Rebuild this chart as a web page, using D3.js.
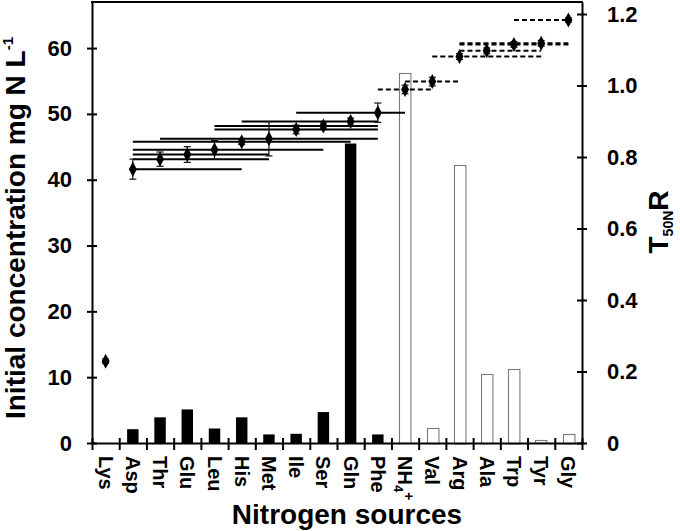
<!DOCTYPE html>
<html>
<head>
<meta charset="utf-8">
<script src="https://cdn.jsdelivr.net/npm/d3@7"></script>
<style>
  html, body { margin: 0; padding: 0; background: #fff; }
  svg { display: block; }
  text { font-family: "Liberation Sans", Arial, sans-serif; font-weight: bold; fill: #000; }
</style>
</head>
<body>
<script>
// ---- data ----
const categories = ["Lys","Asp","Thr","Glu","Leu","His","Met","Ile","Ser","Gln","Phe","NH4+","Val","Arg","Ala","Trp","Tyr","Gly"];
// initial concentration, mg N L-1 (left axis, bars)
const concentration = [0, 2.1, 3.9, 5.1, 2.2, 3.9, 1.3, 1.4, 4.7, 45.5, 1.3, 56.2, 2.3, 42.3, 10.5, 11.3, 0.4, 1.4];
// T50N R (right axis, diamonds)
const t50nr = [0.229, 0.766, 0.794, 0.807, 0.82, 0.843, 0.851, 0.877, 0.887, 0.899, 0.924, 0.989, 1.011, 1.081, 1.097, 1.115, 1.118, 1.183];
const t50nrErr = [0.006, 0.028, 0.02, 0.022, 0.026, 0.008, 0.048, 0.012, 0.008, 0.01, 0.027, 0.012, 0.012, 0.008, 0.008, 0.008, 0.008, 0.006];
// non-significant range (index of first and last category covered)
const rangeStart = [null, 1, 1, 1, 1, 1, 2, 4, 4, 5, 7, 10, 11, 12, 13, 13, 13, 15];
const rangeEnd   = [null, 5, 6, 6, 8, 9, 10, 10, 10, 10, 11, 12, 13, 16, 16, 17, 17, 17];
// group 1 = amino acids taken up (filled bars, solid ranges), group 2 = others
const sourceGroup = [1,1,1,1,1,1,1,1,1,1,1,2,2,2,2,2,2,2];
const leftTicks = [0, 10, 20, 30, 40, 50, 60];
const rightTicks = [0, 0.2, 0.4, 0.6, 0.8, 1.0, 1.2];
const rightTickLabels = ["0", "0.2", "0.4", "0.6", "0.8", "1.0", "1.2"];

// ---- layout ----
const W = 680, H = 531;
const L = 92, R = 582, T = 2, B = 443;

const svg = d3.select("body").append("svg").attr("width", W).attr("height", H);

const x = d3.scaleBand().domain(categories).range([L, R]).padding(0);
const xEdge = d3.scaleLinear().domain([0, categories.length]).range([L, R]);
const yL = d3.scaleLinear().domain([0, 67]).range([B, T]);
const yR = d3.scaleLinear().domain([0, 1.2336]).range([B, T]);
const bw = x.bandwidth();
const cx = c => x(c) + bw / 2;

// ---- bars ----
const barW = bw * 0.42;
const barData = categories.map((c, i) => ({c, v: concentration[i], g: sourceGroup[i]})).filter(d => d.v > 0);
svg.append("g").selectAll("rect").data(barData).join("rect")
  .attr("x", d => d.g === 1 ? cx(d.c) - barW / 2 : Math.round(cx(d.c) - barW / 2) + 0.5)
  .attr("y", d => d.g === 1 ? yL(d.v) : Math.round(yL(d.v)) + 0.5)
  .attr("width", barW)
  .attr("height", d => B - yL(d.v))
  .attr("fill", d => d.g === 1 ? "#000" : "#fff")
  .attr("stroke", d => d.g === 1 ? "none" : "#7a7a7a")
  .attr("stroke-width", 1.1);

// ---- range lines ----
const rangeData = categories.map((c, i) => ({i, v: t50nr[i], s: rangeStart[i], e: rangeEnd[i], g: sourceGroup[i]}))
  .filter(d => d.s !== null);
svg.append("g").selectAll("line").data(rangeData).join("line")
  .attr("x1", d => cx(categories[d.s]))
  .attr("x2", d => cx(categories[d.e]))
  .attr("y1", d => yR(d.v))
  .attr("y2", d => yR(d.v))
  .attr("stroke", "#000")
  .attr("stroke-width", 2)
  .attr("stroke-dasharray", d => d.g === 2 ? "5,3" : null);

// ---- error bars ----
const errData = categories.map((c, i) => ({c, v: t50nr[i], e: t50nrErr[i]}));
const eg = svg.append("g").attr("stroke", "#111").attr("stroke-width", 1.2);
eg.selectAll("line.v").data(errData).join("line").attr("class", "v")
  .attr("x1", d => cx(d.c)).attr("x2", d => cx(d.c))
  .attr("y1", d => yR(d.v - d.e)).attr("y2", d => yR(d.v + d.e));
eg.selectAll("line.t").data(errData).join("line").attr("class", "t")
  .attr("x1", d => cx(d.c) - 3.5).attr("x2", d => cx(d.c) + 3.5)
  .attr("y1", d => yR(d.v + d.e)).attr("y2", d => yR(d.v + d.e));
eg.selectAll("line.b").data(errData).join("line").attr("class", "b")
  .attr("x1", d => cx(d.c) - 3.5).attr("x2", d => cx(d.c) + 3.5)
  .attr("y1", d => yR(d.v - d.e)).attr("y2", d => yR(d.v - d.e));

// ---- diamonds ----
svg.append("g").selectAll("path").data(errData).join("path")
  .attr("d", "M0,-7.5L4,0L0,7.5L-4,0Z")
  .attr("transform", d => `translate(${cx(d.c)},${yR(d.v)})`)
  .attr("fill", "#000");

// ---- axes ----
const fixAxis = (g) => {
  g.select(".domain").attr("stroke-width", 2);
  g.selectAll(".tick line").attr("stroke-width", 2);
  g.selectAll("text").style("font-size", "22px").attr("fill", "#000");
};

const gl = svg.append("g").attr("transform", `translate(${L},0)`)
  .call(d3.axisLeft(yL).tickValues(leftTicks).tickFormat(d3.format("d")).tickSize(5).tickSizeOuter(0).tickPadding(15));
fixAxis(gl);
gl.selectAll(".tick line").attr("x1", 5).attr("x2", -5);

const gr = svg.append("g").attr("transform", `translate(${R},0)`)
  .call(d3.axisRight(yR).tickValues(rightTicks).tickFormat((d, i) => rightTickLabels[i]).tickSize(5).tickSizeOuter(0).tickPadding(20));
fixAxis(gr);
gr.selectAll(".tick line").attr("x1", -5).attr("x2", 5);

const gb = svg.append("g").attr("transform", `translate(0,${B})`)
  .call(d3.axisBottom(xEdge).tickValues(d3.range(0, categories.length + 1)).tickFormat("").tickSize(7).tickSizeOuter(0));
fixAxis(gb);
gb.selectAll(".tick line").attr("y1", -5).attr("y2", 7);

// top border
svg.append("line").attr("x1", L - 1).attr("x2", R + 1).attr("y1", T).attr("y2", T)
  .attr("stroke", "#000").attr("stroke-width", 2);

// category labels
const gc = svg.append("g").attr("transform", `translate(0,${B})`)
  .call(d3.axisBottom(x).tickSize(0));
gc.select(".domain").remove();
gc.selectAll(".tick text")
  .attr("y", 0).attr("x", 13).attr("dy", "0.35em")
  .attr("transform", "rotate(90)")
  .style("text-anchor", "start")
  .style("font-size", "20px")
  .attr("fill", "#000")
  .each(function(d) {
    if (d === "NH4+") {
      const t = d3.select(this);
      t.text(null);
      t.append("tspan").text("NH");
      t.append("tspan").text("4").style("font-size", "13px").attr("dy", "4");
      t.append("tspan").text("+").style("font-size", "14px").attr("dy", "-10");
    }
  });

// axis titles
const lt = svg.append("text")
  .attr("transform", "translate(25,228) rotate(-90)")
  .attr("text-anchor", "middle")
  .style("font-size", "28px");
lt.append("tspan").text("Initial concentration mg N L");
lt.append("tspan").text("-1").style("font-size", "15px").attr("dy", "-12");

svg.append("text")
  .attr("x", 347).attr("y", 524)
  .attr("text-anchor", "middle")
  .style("font-size", "28px")
  .text("Nitrogen sources");

const rt = svg.append("text")
  .attr("transform", "translate(668,222) rotate(-90)")
  .attr("text-anchor", "middle")
  .style("font-size", "28px");
rt.append("tspan").text("T");
rt.append("tspan").text("50N").style("font-size", "14px").attr("dy", "5");
rt.append("tspan").text("R").attr("dy", "-5");
</script>
</body>
</html>
